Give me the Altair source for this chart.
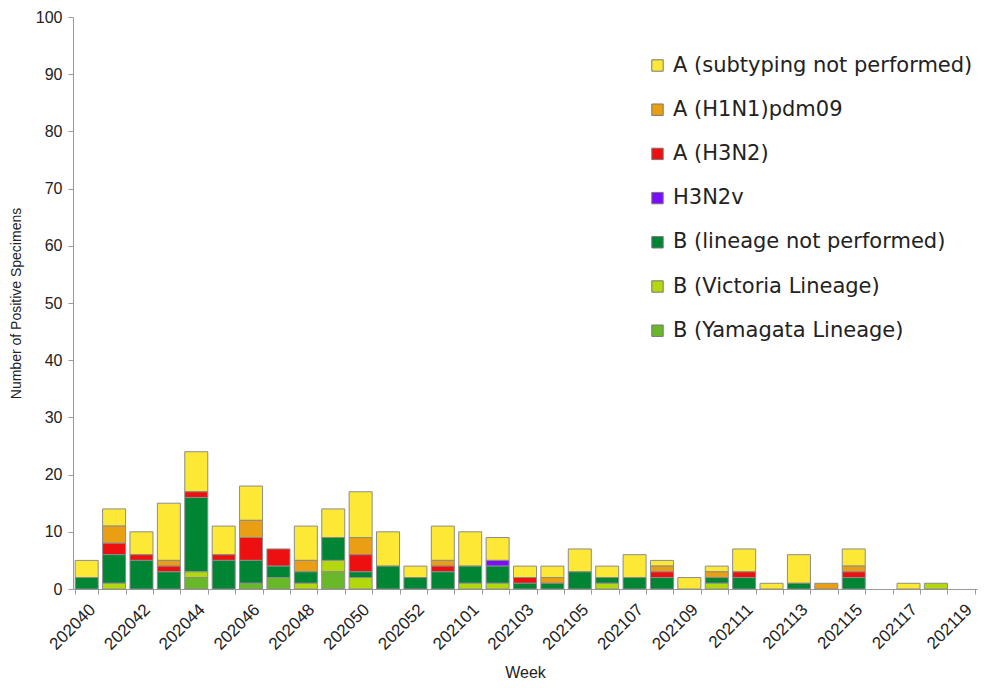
import altair as alt
import pandas as pd

weeks = [str(w) for w in list(range(202040, 202054)) + list(range(202101, 202120))]

series_names = [
    "A (subtyping not performed)",
    "A (H1N1)pdm09",
    "A (H3N2)",
    "H3N2v",
    "B (lineage not performed)",
    "B (Victoria Lineage)",
    "B (Yamagata Lineage)",
]
series_colors = ["#fde835", "#e99e14", "#ee1010", "#7a0cff", "#008535", "#b4d80e", "#69b82a"]

a_unsubtyped = [3, 3, 4, 10, 7, 5, 6, 0, 6, 5, 8, 6, 2, 6, 6, 4, 2, 2, 4, 2, 4, 1, 2, 1, 4, 1, 5, 0, 3, 0, 1, 0, 0]
a_h1n1 = [0, 3, 0, 1, 0, 0, 3, 0, 2, 0, 3, 0, 0, 1, 0, 0, 0, 1, 0, 0, 0, 1, 0, 1, 0, 0, 0, 1, 1, 0, 0, 0, 0]
a_h3n2 = [0, 2, 1, 1, 1, 1, 4, 3, 0, 0, 3, 0, 0, 1, 0, 0, 1, 0, 0, 0, 0, 1, 0, 0, 1, 0, 0, 0, 1, 0, 0, 0, 0]
h3n2v = [0, 0, 0, 0, 0, 0, 0, 0, 0, 0, 0, 0, 0, 0, 0, 1, 0, 0, 0, 0, 0, 0, 0, 0, 0, 0, 0, 0, 0, 0, 0, 0, 0]
b_nolineage = [2, 5, 5, 3, 13, 5, 4, 2, 2, 4, 1, 4, 2, 3, 3, 3, 1, 1, 3, 1, 2, 2, 0, 1, 2, 0, 1, 0, 2, 0, 0, 0, 0]
b_victoria = [0, 1, 0, 0, 1, 0, 0, 0, 1, 2, 2, 0, 0, 0, 1, 1, 0, 0, 0, 1, 0, 0, 0, 1, 0, 0, 0, 0, 0, 0, 0, 1, 0]
b_yamagata = [0, 0, 0, 0, 2, 0, 1, 2, 0, 3, 0, 0, 0, 0, 0, 0, 0, 0, 0, 0, 0, 0, 0, 0, 0, 0, 0, 0, 0, 0, 0, 0, 0]

all_series = [a_unsubtyped, a_h1n1, a_h3n2, h3n2v, b_nolineage, b_victoria, b_yamagata]

rows = []
for si, (name, vals) in enumerate(zip(series_names, all_series)):
    for w, v in zip(weeks, vals):
        rows.append({"week": w, "type": name, "count": v, "ord": len(series_names) - si})
df = pd.DataFrame(rows)

label_expr = ("(toNumber(datum.value) < 202100 ? toNumber(datum.value) % 2 == 0 : "
              "toNumber(datum.value) % 2 == 1) ? datum.value : ''")

chart = alt.Chart(df).mark_bar(stroke="#8c8c8c", strokeWidth=1).encode(
    x=alt.X("week:N", sort=weeks, title="Week",
            scale=alt.Scale(domain=weeks, paddingInner=0.16, paddingOuter=0.08),
            axis=alt.Axis(labelAngle=-45, labelExpr=label_expr, tickBand="extent",
                          labelFontSize=17, titleFontSize=16, titleY=75,
                          labelPadding=7, tickSize=5)),
    y=alt.Y("count:Q", title="Number of Positive Specimens",
            scale=alt.Scale(domain=[0, 100]),
            axis=alt.Axis(values=list(range(0, 101, 10)), grid=False,
                          labelFontSize=16, titleFontSize=14, tickSize=5,
                          labelPadding=6, titlePadding=12)),
    color=alt.Color("type:N", sort=series_names,
                    scale=alt.Scale(domain=series_names, range=series_colors),
                    legend=alt.Legend(title=None, orient="none", legendX=574, legendY=38,
                                      symbolType="square", symbolSize=130,
                                      symbolStrokeColor="#777", symbolStrokeWidth=1,
                                      labelFontSize=21, labelColor="#222",
                                      labelFont="DejaVu Sans",
                                      rowPadding=22.2, labelOffset=5, padding=0,
                                      labelLimit=400)),
    order=alt.Order("ord:Q", sort="ascending"),
).transform_filter(
    alt.datum.count > 0
).properties(
    width=904, height=572,
    autosize=alt.AutoSizeParams(type="none"),
    padding={"left": 65, "top": 9, "right": 5, "bottom": 91},
).configure_axis(
    domainColor="#999", tickColor="#999", labelColor="#222", titleColor="#222",
    labelFont="Liberation Sans", titleFont="Liberation Sans", titleFontWeight="normal",
).configure_view(stroke=None)

chart.save("out.html", embed_options={"renderer": "svg", "actions": False})
